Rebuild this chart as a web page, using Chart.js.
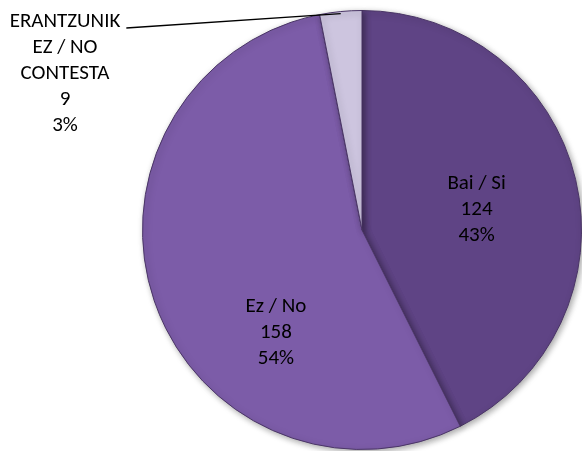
<!DOCTYPE html>
<html>
<head>
<meta charset="utf-8">
<script src="https://cdn.jsdelivr.net/npm/chart.js@4.4.1/dist/chart.umd.min.js"></script>
<style>
  html, body { margin: 0; padding: 0; background: #fff; }
  #wrap { width: 582px; height: 451px; position: relative; }
</style>
</head>
<body>
<div id="wrap"><canvas id="pieChart"></canvas></div>
<script>
var labels = ["Bai / Si", "Ez / No", "ERANTZUNIK EZ / NO CONTESTA"];
var labelLines = [["Bai / Si"], ["Ez / No"], ["ERANTZUNIK", "EZ / NO", "CONTESTA"]];
var counts = [124, 158, 9];
var percents = ["43%", "54%", "3%"];
var colors = ["#5f4485", "#7c5ca8", "#cdc5df"];

// label placement: angle from top (clockwise, degrees) and distance as fraction of radius
var labelSpots = [
  {angle: 80, dist: 0.53},
  {angle: 220, dist: 0.61},
  {outside: true, x: 65, y: 22}
];

var pieLabels = {
  id: "pieLabels",
  beforeDatasetsDraw: function(chart) {
    chart.ctx.save();
    chart.ctx.shadowColor = "rgba(0,0,0,0.35)";
    chart.ctx.shadowBlur = 6;
    chart.ctx.shadowOffsetX = 2;
    chart.ctx.shadowOffsetY = 2;
  },
  afterDatasetsDraw: function(chart) {
    var ctx = chart.ctx;
    ctx.restore();
    var arcs = chart.getDatasetMeta(0).data;
    ctx.save();
    ctx.font = "21px Carlito, 'Open Sans', sans-serif";
    ctx.fillStyle = "#000";
    ctx.textAlign = "center";
    ctx.textBaseline = "middle";
    var lh = 26;
    arcs.forEach(function(arc, i) {
      var lines = labelLines[i].concat([String(counts[i]), percents[i]]);
      var spot = labelSpots[i];
      var x, y;
      if (spot.outside) {
        x = spot.x; y = spot.y;
        // leader line from first text line to arc edge
        var w = ctx.measureText(lines[0]).width;
        var mid = (arc.startAngle + arc.endAngle) / 2;
        var ex = arc.x + Math.cos(mid) * arc.outerRadius;
        var ey = arc.y + Math.sin(mid) * arc.outerRadius + 2;
        ctx.strokeStyle = "#000";
        ctx.lineWidth = 1.3;
        ctx.beginPath();
        ctx.moveTo(x + w / 2 + 6, y + 6);
        ctx.lineTo(ex, ey);
        ctx.stroke();
      } else {
        var a = (spot.angle - 90) * Math.PI / 180;
        x = arc.x + Math.cos(a) * arc.outerRadius * spot.dist;
        y = arc.y + Math.sin(a) * arc.outerRadius * spot.dist - (lines.length - 1) * lh / 2;
      }
      lines.forEach(function(t, k) {
        ctx.fillText(t, x, y + k * lh);
      });
    });
    ctx.restore();
  }
};

new Chart("pieChart", {
  type: "pie",
  data: {
    labels: labels,
    datasets: [{
      data: counts,
      backgroundColor: colors,
      borderColor: "#4a3566",
      borderWidth: 1
    }]
  },
  options: {
    responsive: true,
    maintainAspectRatio: false,
    animation: false,
    layout: { padding: { left: 142, right: 0, top: 10, bottom: 1 } },
    plugins: {
      legend: { display: false },
      tooltip: { enabled: false }
    }
  },
  plugins: [pieLabels]
});
</script>
</body>
</html>
